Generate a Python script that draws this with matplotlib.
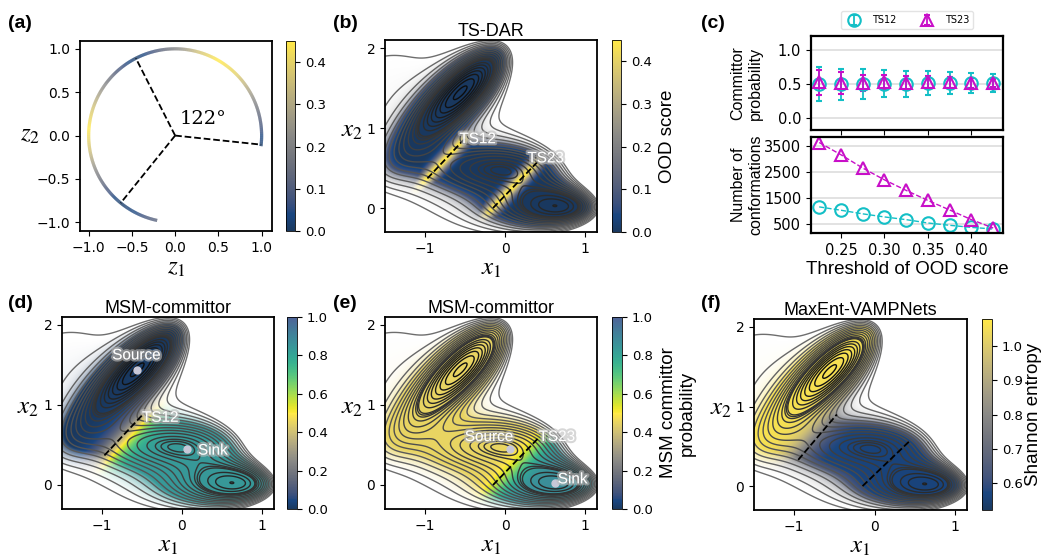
import numpy as np
import matplotlib
matplotlib.use("Agg")
import matplotlib.pyplot as plt
from matplotlib.colors import LinearSegmentedColormap, Normalize
from matplotlib.collections import LineCollection
from matplotlib.cm import ScalarMappable
import matplotlib.patheffects as pe

plt.rcParams["mathtext.fontset"] = "stix"
plt.rcParams["font.family"] = ["DejaVu Sans"]

W, H = 1044, 559

# ---------------- data ----------------
# (a) OOD score read along the latent circle (angle in degrees)
arc_angle = [-7, 0, 15, 30, 45, 60, 75, 90, 105, 117, 130, 145, 160, 175, 190, 205, 220, 231, 245, 258]
arc_score = [0.02, 0.04, 0.14, 0.28, 0.40, 0.45, 0.36, 0.20, 0.07, 0.01, 0.08, 0.22, 0.36, 0.45, 0.36, 0.20, 0.07, 0.01, 0.05, 0.12]
arc_ts_angle = [-6, 117, 231]

# (c) threshold scan
thresholds = [0.225, 0.25, 0.275, 0.30, 0.325, 0.35, 0.375, 0.40, 0.425]
ts12_q = [0.50, 0.50, 0.50, 0.51, 0.51, 0.52, 0.52, 0.52, 0.52]
ts12_err = [0.25, 0.23, 0.22, 0.20, 0.19, 0.17, 0.16, 0.15, 0.13]
ts23_q = [0.53, 0.52, 0.52, 0.53, 0.52, 0.53, 0.53, 0.52, 0.52]
ts23_err = [0.18, 0.16, 0.12, 0.11, 0.10, 0.09, 0.08, 0.07, 0.06]
ts12_count = [1150, 1020, 880, 760, 655, 525, 435, 355, 290]
ts23_count = [3650, 3175, 2660, 2200, 1790, 1400, 1030, 655, 330]

# Mueller-Brown potential parameters
MB_A = [-200, -100, -170, 15]
MB_a = [-1, -1, -6.5, 0.7]
MB_b = [0, 0, 11, 0.6]
MB_c = [-10, -10, -6.5, 0.7]
MB_x0 = [1, 0, -0.5, -1]
MB_y0 = [0, 0.5, 1.5, 1]
mb_levels = [-144, -135, -126, -117, -108, -99, -90, -79, -76, -72.5,
             -66, -57, -48, -39, -30, -21, -12, -3, 6, 15, 24]

# transition-state lines and states
ts12_line = [(-0.97, 0.37), (-0.50, 0.87)]
ts23_line = [(-0.15, 0.0), (0.42, 0.59)]
basin1 = (-0.56, 1.44)
basin2 = (0.06, 0.45)
basin3 = (0.63, 0.03)


def box(l, t, r, b):
    return [l / W, 1 - b / H, (r - l) / W, (b - t) / H]


def soften(cmap, k=0.1):
    c = cmap(np.linspace(0, 1, 256))
    c[:, :3] = c[:, :3] * (1 - k) + k
    return LinearSegmentedColormap.from_list("soft", c)


civ = soften(plt.get_cmap("cividis"))
lo = plt.get_cmap("cividis")(np.linspace(0, 1, 128))
hi = plt.get_cmap("viridis")(np.linspace(1.0, 0.25, 128))
comm_cmap = soften(LinearSegmentedColormap.from_list("comm", np.vstack([lo, hi])))
line_cmap = LinearSegmentedColormap.from_list("cl", ["#0a0a0a", "#6e6e6e"])

# grid for the 2D panels
xs = np.linspace(-1.5, 1.15, 500)
ys = np.linspace(-0.3, 2.1, 460)
X, Y = np.meshgrid(xs, ys)
V = np.zeros_like(X)
for A, a, b, c, x0, y0 in zip(MB_A, MB_a, MB_b, MB_c, MB_x0, MB_y0):
    V += A * np.exp(a * (X - x0) ** 2 + b * (X - x0) * (Y - y0) + c * (Y - y0) ** 2)


def side(seg):
    (x0, y0), (x1, y1) = seg
    dx, dy = x1 - x0, y1 - y0
    L = np.hypot(dx, dy)
    s = ((X - x0) * dy - (Y - y0) * dx) / L
    t = ((X - x0) * dx + (Y - y0) * dy) / L ** 2
    return s, t


def sig(z):
    return 1 / (1 + np.exp(-z))


s12, t12 = side(ts12_line)
s23, t23 = side(ts23_line)
edge = np.clip((V + 35) / 45, 0, 1)

band12 = np.exp(-(s12 / 0.085) ** 2) * sig((t12 + 0.5) / 0.08) * sig((1.15 - t12) / 0.08)
band23 = np.exp(-(s23 / 0.085) ** 2) * sig((t23 + 0.3) / 0.08) * sig((1.1 - t23) / 0.08)
ood = np.maximum.reduce([0.45 * band12, 0.45 * band23, 0.21 * edge])

q_d = 0.84 * sig((s12 - 0.04) / 0.09)
q_e = 0.45 + 0.42 * sig((s23 - 0.08) / 0.07)
base = 0.56 + 0.5 * sig(-(s12 + 0.02) / 0.08)
ent = np.where(base < 0.78, base + (0.78 - base) * edge, base)

dens = np.clip((25 - V) / 42, 0, 1)
alpha = dens ** 2

fig = plt.figure(figsize=(W / 100, H / 100), dpi=100)


def field_panel(rect, crect, field, cmap, norm, title, clabel, cticks, ylab_x, lpad=5):
    ax = fig.add_axes(box(*rect))
    rgba = cmap(norm(field))
    rgba[..., 3] = alpha
    ax.imshow(rgba, extent=[xs[0], xs[-1], ys[0], ys[-1]], origin="lower",
              aspect="auto", interpolation="bilinear", zorder=1)
    ax.contour(X, Y, V, levels=mb_levels, cmap=line_cmap,
               norm=Normalize(-150, 25), linewidths=1.0, zorder=2)
    ax.set_xlim(-1.5, 1.15)
    ax.set_ylim(-0.3, 2.1)
    ax.set_xticks([-1, 0, 1])
    ax.set_yticks([0, 1, 2])
    ax.tick_params(labelsize=10)
    ax.set_xlabel("$x_1$", fontsize=18, labelpad=0)
    ax.set_ylabel("$x_2$", fontsize=18, rotation=0)
    ax.yaxis.set_label_coords(ylab_x, 0.47)
    for sp in ax.spines.values():
        sp.set_linewidth(1.3)
    if title:
        ax.set_title(title, fontsize=13, family="Liberation Sans", pad=3)
    cax = fig.add_axes(box(*crect))
    cb = fig.colorbar(ScalarMappable(norm=norm, cmap=cmap), cax=cax)
    cb.set_ticks(cticks)
    cb.ax.tick_params(labelsize=9.5)
    cb.outline.set_linewidth(0.6)
    if clabel:
        cb.set_label(clabel, fontsize=13.5, family="Liberation Sans", labelpad=lpad)
    return ax


def ts_line(ax, seg):
    (x0, y0), (x1, y1) = seg
    ax.plot([x0, x1], [y0, y1], "k--", lw=1.3, zorder=3)


glow = [pe.withStroke(linewidth=3, foreground="#bdbdbd", alpha=0.6)]


def label(ax, x, y, s, ha="left"):
    ax.text(x, y, s, color="white", fontsize=11, family="Liberation Sans",
            ha=ha, va="center", path_effects=glow, zorder=5)


def state(ax, xy):
    ax.plot(*xy, "o", ms=5, color="#c8c8d8", zorder=4)


ood_norm = Normalize(0, 0.45)
comm_norm = Normalize(0, 1)
ent_norm = Normalize(0.52, 1.08)

# ---- (a) ----
ax = fig.add_axes(box(80, 41, 272, 231))
th = np.radians(np.linspace(arc_angle[0], arc_angle[-1], 600))
col = np.interp(np.degrees(th), arc_angle, arc_score)
pts = np.column_stack([np.cos(th), np.sin(th)]).reshape(-1, 1, 2)
segs = np.concatenate([pts[:-1], pts[1:]], axis=1)
lc = LineCollection(segs, cmap=civ, norm=ood_norm, linewidths=2.3)
lc.set_array(col[:-1])
ax.add_collection(lc)
for a in arc_ts_angle:
    r = np.radians(a)
    ax.plot([0, np.cos(r)], [0, np.sin(r)], "k--", lw=1.3)
ax.text(0.05, 0.09, "122°", fontsize=14, family="DejaVu Serif", va="bottom")
ax.set_xlim(-1.1, 1.12)
ax.set_ylim(-1.1, 1.09)
ax.set_xticks([-1, -0.5, 0, 0.5, 1])
ax.set_yticks([-1, -0.5, 0, 0.5, 1])
ax.tick_params(labelsize=10)
ax.set_xlabel("$z_1$", fontsize=18, labelpad=0)
ax.set_ylabel("$z_2$", fontsize=18, rotation=0)
ax.yaxis.set_label_coords(-0.26, 0.45)
for sp in ax.spines.values():
    sp.set_linewidth(1.3)
cax = fig.add_axes(box(286, 41, 295, 231))
cb = fig.colorbar(ScalarMappable(norm=ood_norm, cmap=civ), cax=cax)
cb.set_ticks([0, 0.1, 0.2, 0.3, 0.4])
cb.ax.tick_params(labelsize=9.5)
cb.outline.set_linewidth(0.6)

# ---- (b) ----
ax = field_panel((385, 40, 597, 232), (612, 40, 621, 232), ood, civ, ood_norm,
                 "TS-DAR", "OOD score", [0, 0.1, 0.2, 0.3, 0.4], -0.155)
ts_line(ax, ts12_line)
ts_line(ax, ts23_line)
label(ax, -0.57, 0.86, "TS12")
label(ax, 0.28, 0.62, "TS23")

# ---- (d) ----
ax = field_panel((62, 317, 274, 509), (287, 317, 297, 509), q_d, comm_cmap, comm_norm,
                 "MSM-committor", None, [0, 0.2, 0.4, 0.6, 0.8, 1.0], -0.16)
ts_line(ax, ts12_line)
state(ax, basin1)
state(ax, basin2)
label(ax, -0.57, 1.62, "Source", ha="center")
label(ax, 0.2, 0.43, "Sink")
label(ax, -0.5, 0.84, "TS12")

# ---- (e) ----
ax = field_panel((385, 317, 597, 509), (612, 317, 622, 509), q_e, comm_cmap, comm_norm,
                 "MSM-committor", "MSM committor\nprobability",
                 [0, 0.2, 0.4, 0.6, 0.8, 1.0], -0.155)
ts_line(ax, ts23_line)
state(ax, basin2)
state(ax, basin3)
label(ax, -0.2, 0.6, "Source", ha="center")
label(ax, 0.42, 0.6, "TS23")
label(ax, 0.66, 0.07, "Sink")

# ---- (f) ----
ax = field_panel((754, 319, 967, 510), (982, 319, 992, 510), ent, civ, ent_norm,
                 "MaxEnt-VAMPNets", "Shannon entropy", [0.6, 0.7, 0.8, 0.9, 1.0], -0.155,
                 lpad=2)
ts_line(ax, [(-0.95, 0.33), (-0.47, 0.9)])
ts_line(ax, [(-0.15, 0.0), (0.45, 0.58)])

# ---- (c) ----
axt = fig.add_axes(box(811, 36, 1003, 130))
axb = fig.add_axes(box(811, 137, 1003, 233), sharex=axt)
c12, c23 = "#13bfc6", "#c80fc8"
axt.errorbar(thresholds, ts12_q, yerr=ts12_err, fmt="o", ms=9, mfc="none",
             mec=c12, mew=1.5, ecolor=c12, elinewidth=1.3, capsize=2, label="TS12")
axt.errorbar(thresholds, ts23_q, yerr=ts23_err, fmt="^", ms=8, mfc="none",
             mec=c23, mew=1.5, ecolor=c23, elinewidth=1.3, capsize=2, label="TS23")
axt.set_ylim(-0.17, 1.21)
axt.set_yticks([0, 0.5, 1.0])
axt.tick_params(labelbottom=False, labelsize=10.5)
axt.set_ylabel("Committor\nprobability", fontsize=11.5, family="Liberation Sans")
axt.grid(axis="y", color="#dddddd", lw=1.2)
axt.set_axisbelow(True)
axt.legend(loc="lower center", bbox_to_anchor=(0.5, 1.02), ncol=2, fontsize=7,
           frameon=True, edgecolor="#dddddd", handletextpad=0.8, columnspacing=2.2,
           borderpad=0.4)

axb.plot(thresholds, ts12_count, "o--", ms=9, mfc="none", mec=c12, mew=1.5, color=c12, lw=1)
axb.plot(thresholds, ts23_count, "^--", ms=8, mfc="none", mec=c23, mew=1.5, color=c23, lw=1)
axb.set_ylim(136, 3864)
axb.set_yticks([500, 1500, 2500, 3500])
axb.set_xlim(0.2156, 0.4363)
axb.set_xticks([0.25, 0.30, 0.35, 0.40])
axb.tick_params(labelsize=10.5)
axb.set_ylabel("Number of\nconformations", fontsize=11.5, family="Liberation Sans")
axb.set_xlabel("Threshold of OOD score", fontsize=13.5, family="Liberation Sans", labelpad=2)
axb.grid(axis="y", color="#dddddd", lw=1.2)
axb.set_axisbelow(True)
for a_ in (axt, axb):
    for sp in a_.spines.values():
        sp.set_linewidth(1.6)
axt.yaxis.set_label_coords(-0.25, 0.5)
axb.yaxis.set_label_coords(-0.25, 0.5)

# panel letters
for s, x, y in [("(a)", 8, 24), ("(b)", 333, 24), ("(c)", 701, 24),
                ("(d)", 8, 304), ("(e)", 333, 304), ("(f)", 701, 304)]:
    fig.text(x / W, 1 - y / H, s, fontsize=14, fontweight="bold", va="center",
             family="Liberation Sans")

fig.savefig("out.png", dpi=100)
